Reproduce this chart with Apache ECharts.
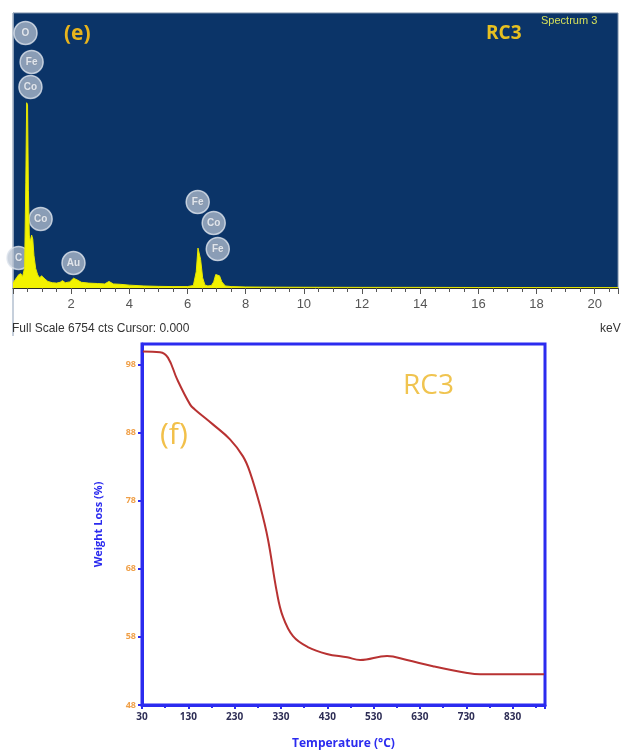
<!DOCTYPE html>
<html><head><meta charset="utf-8">
<script src="https://cdn.jsdelivr.net/npm/echarts@6/dist/echarts.min.js"></script>
<style>html,body{margin:0;padding:0;background:#fff}#c{width:621px;height:752px}</style>
</head><body><div id="c"></div>
<script>
// ---- EDS spectrum (e) ----
var specKeV = [0, 0.05, 0.12, 0.2, 0.27, 0.33, 0.4, 0.44, 0.47, 0.5, 0.53, 0.56, 0.6, 0.64, 0.68, 0.72, 0.78, 0.85, 0.92, 0.98, 1.04, 1.1, 1.2, 1.35, 1.5, 1.62, 1.7, 1.8, 1.95, 2.08, 2.2, 2.35, 2.6, 2.9, 3.15, 3.3, 3.45, 3.7, 4.0, 4.5, 5.0, 5.5, 6.0, 6.2, 6.3, 6.36, 6.4, 6.45, 6.52, 6.6, 6.7, 6.82, 6.9, 6.97, 7.03, 7.1, 7.18, 7.3, 7.5, 8.0, 9, 10, 12, 14, 16, 18, 20, 20.8];
var specCounts = [120, 150, 250, 330, 350, 280, 500, 2600, 4550, 4500, 2400, 1300, 1150, 1300, 1200, 800, 480, 320, 250, 300, 330, 220, 160, 130, 120, 140, 180, 130, 150, 240, 200, 140, 120, 110, 100, 160, 100, 90, 70, 50, 40, 35, 35, 60, 400, 980, 1000, 700, 250, 70, 50, 60, 150, 330, 370, 300, 150, 50, 35, 25, 20, 18, 15, 15, 12, 12, 10, 10];
var elemNames = ['O', 'Fe', 'Co', 'Co', 'C', 'Au', 'Fe', 'Co', 'Fe'];
var elemKeV = [0.43, 0.64, 0.6, 0.95, 0.19, 2.08, 6.35, 6.9, 7.04];
var elemCounts = [6263, 5550, 4937, 1695, 737, 614, 2112, 1596, 958];
var edsFullScale = 6754;
var edsMaxKeV = 20.8;

// ---- TGA curve (f) ----
var tgaTemp = [32, 69, 86, 106, 134, 144, 183, 220, 248, 263, 285, 302, 321, 334, 356, 388, 429, 473, 501, 559, 602, 658, 732, 760, 830, 898];
var tgaWeight = [99.9, 99.8, 99.0, 95.8, 92.1, 91.4, 89.2, 87.0, 84.5, 82.2, 77.2, 72.3, 64.6, 61.0, 58.1, 56.5, 55.5, 55.0, 54.6, 55.2, 54.6, 53.7, 52.7, 52.5, 52.5, 52.5];

var specData = specKeV.map(function (k, i) { return [k, specCounts[i]]; });
var elemData = elemKeV.map(function (k, i) { return { name: elemNames[i], value: [k, elemCounts[i]] }; });
var tgaData = tgaTemp.map(function (t, i) { return [t, tgaWeight[i]]; });

var chart = echarts.init(document.getElementById('c'), null, { renderer: 'canvas' });
var blue = '#2b2bef';
chart.setOption({
  animation: false,
  backgroundColor: '#ffffff',
  grid: [
    { left: 13, top: 13, right: 3, bottom: 464, show: true, backgroundColor: '#0b3468', borderColor: '#7b8ea8', borderWidth: 1 },
    { left: 142, top: 344, right: 76, bottom: 47, show: true, backgroundColor: '#ffffff', borderColor: blue, borderWidth: 3 }
  ],
  xAxis: [
    { gridIndex: 0, type: 'value', min: 0, max: edsMaxKeV, interval: 2,
      axisLine: { show: true, lineStyle: { color: '#2a2a2a', width: 1 } },
      axisTick: { show: true, length: 6, lineStyle: { color: '#555' } },
      minorTick: { show: true, splitNumber: 4, length: 4, lineStyle: { color: '#555' } },
      splitLine: { show: false },
      axisLabel: { showMinLabel: false, showMaxLabel: false, color: '#555', fontSize: 13, fontFamily: 'Liberation Sans', margin: 10 } },
    { gridIndex: 1, type: 'value', min: 30, max: 900, interval: 100,
      name: 'Temperature (°C)', nameLocation: 'middle', nameGap: 33,
      nameTextStyle: { color: blue, fontSize: 12, fontWeight: 'bold', fontFamily: 'Open Sans' },
      axisLine: { show: true, lineStyle: { color: blue, width: 3 } },
      axisTick: { show: true, length: 4, lineStyle: { color: blue, width: 2 } },
      minorTick: { show: true, splitNumber: 2, length: 3, lineStyle: { color: blue, width: 2 } },
      splitLine: { show: false },
      axisLabel: { showMaxLabel: false, color: '#2d2d55', fontSize: 10, fontWeight: 'bold', fontFamily: 'Open Sans', margin: 7 } }
  ],
  yAxis: [
    { gridIndex: 0, type: 'value', min: 0, max: edsFullScale, show: true,
      axisLine: { show: true, lineStyle: { color: '#8da0b8', width: 1 } },
      axisTick: { show: false }, axisLabel: { show: false }, splitLine: { show: false } },
    { gridIndex: 1, type: 'value', min: 48, max: 101, interval: 10,
      name: 'Weight Loss (%)', nameLocation: 'middle', nameGap: 38,
      nameTextStyle: { color: blue, fontSize: 11, fontWeight: 'bold', fontFamily: 'Open Sans' },
      axisLine: { show: true, lineStyle: { color: blue, width: 3 } },
      axisTick: { show: true, length: 4, lineStyle: { color: blue, width: 2 } },
      splitLine: { show: false },
      axisLabel: { showMaxLabel: false, color: '#f0a048', fontSize: 9, fontWeight: 'bold', fontFamily: 'Open Sans', margin: 6 } }
  ],
  series: [
    { type: 'line', xAxisIndex: 0, yAxisIndex: 0, data: specData, showSymbol: false,
      lineStyle: { color: '#e6e600', width: 1 }, areaStyle: { color: '#f2f200', opacity: 1 } },
    { type: 'scatter', xAxisIndex: 0, yAxisIndex: 0, data: elemData, symbol: 'circle', symbolSize: 23,
      itemStyle: { color: 'rgba(185,195,210,0.92)', borderColor: '#dfe5ee', borderWidth: 1.5 },
      label: { show: true, position: 'inside', formatter: '{b}', color: '#f5f7fb', fontSize: 10, fontWeight: 'bold', fontFamily: 'Liberation Sans', textBorderColor: '#8c98aa', textBorderWidth: 1 } },
    { type: 'line', xAxisIndex: 1, yAxisIndex: 1, data: tgaData, smooth: 0.4, showSymbol: false,
      lineStyle: { color: '#b83232', width: 2 } }
  ],
  graphic: [
    { type: 'line', shape: { x1: 13, y1: 288, x2: 13, y2: 336 }, style: { stroke: '#8da0b8', lineWidth: 1 } },
    { type: 'text', left: 64, top: 24, style: { text: '(e)', fill: '#e8b41c', font: 'bold 21px "Open Sans"' } },
    { type: 'text', left: 486, top: 24, style: { text: 'RC3', fill: '#e8c020', font: 'bold 19px "Open Sans"' } },
    { type: 'text', left: 541, top: 15, style: { text: 'Spectrum 3', fill: '#d6e05a', font: '11px "Liberation Sans Narrow", "Liberation Sans"' } },
    { type: 'text', left: 12, top: 323, style: { text: 'Full Scale 6754 cts Cursor: 0.000', fill: '#333', font: '12px "Liberation Sans"' } },
    { type: 'text', left: 600, top: 323, style: { text: 'keV', fill: '#333', font: '12px "Liberation Sans"' } },
    { type: 'text', left: 160, top: 420, style: { text: '(f)', fill: '#f2c04a', font: '30px "Open Sans"' } },
    { type: 'text', left: 403, top: 372, style: { text: 'RC3', fill: '#f0c450', font: '28px "Open Sans"' } }
  ]
});
</script></body></html>
